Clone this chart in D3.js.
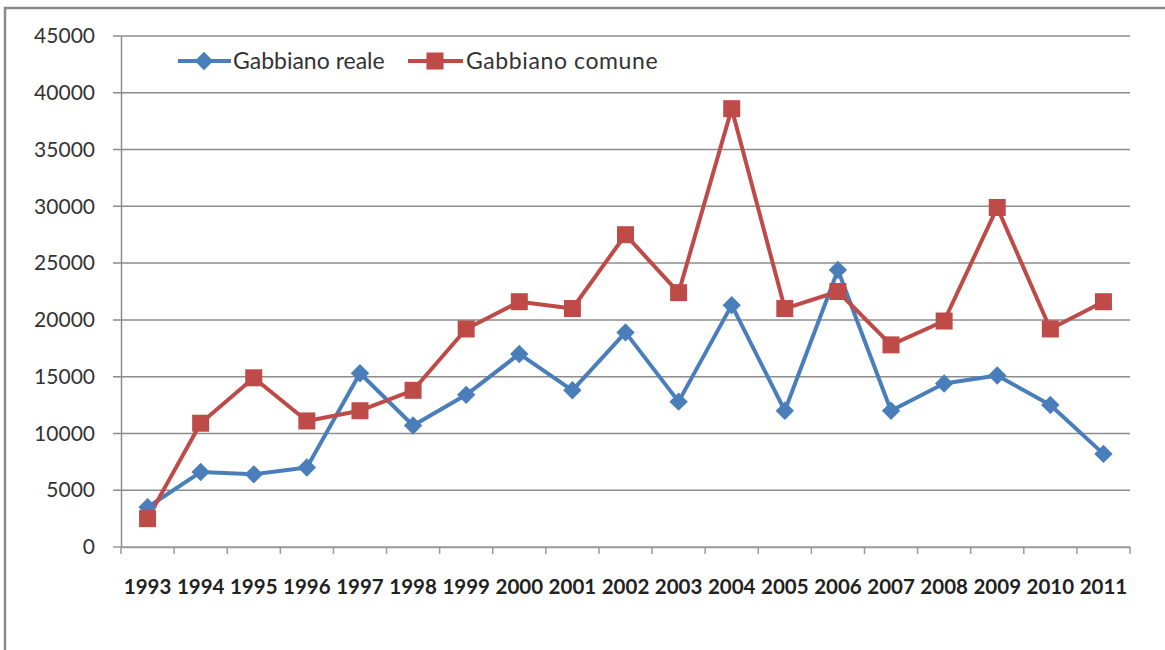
<!DOCTYPE html>
<html><head><meta charset="utf-8">
<script src="https://cdn.jsdelivr.net/npm/d3@7"></script>
<style>body{margin:0;background:#fff;}svg{display:block;}</style>
</head><body>
<svg id="c" width="1165" height="650"></svg>
<script>
const years = ["1993","1994","1995","1996","1997","1998","1999","2000","2001","2002","2003","2004","2005","2006","2007","2008","2009","2010","2011"];
const reale = [3500,6600,6400,7000,15300,10700,13400,17000,13800,18900,12800,21300,12000,24400,12000,14400,15100,12500,8200];
const comune = [2500,10900,14900,11100,12000,13800,19200,21600,21000,27500,22400,38600,21000,22500,17800,19900,29900,19200,21600];
const yTicks = [0,5000,10000,15000,20000,25000,30000,35000,40000,45000];
const seriesNames = ["Gabbiano reale","Gabbiano comune"];

const svg = d3.select("#c");
const font = "Lato, 'Liberation Sans', sans-serif";
// outer frame
svg.append("rect").attr("x",5).attr("y",8).attr("width",1175).attr("height",660)
  .attr("fill","#fff").attr("stroke","#8a8a8a").attr("stroke-width",2.5);

const L=121, R=1130, T=36, B=547;
const x = d3.scaleBand().domain(years).range([L,R]);
const y = d3.scaleLinear().domain([0,45000]).range([B,T]);

// gridlines
svg.append("g").selectAll("line").data(yTicks).join("line")
  .attr("x1",L-8).attr("x2",R).attr("y1",d=>y(d)).attr("y2",d=>y(d))
  .attr("stroke",d=>d===0?"#9a9a9a":"#8c8c8c").attr("stroke-width",1.5);

// y axis
const ya = svg.append("g").attr("transform",`translate(${L},0)`)
  .call(d3.axisLeft(y).tickValues(yTicks).tickSize(0).tickPadding(26).tickFormat(d3.format("d")));
ya.select(".domain").attr("stroke","#8c8c8c").attr("stroke-width",1.5);
ya.selectAll("text").attr("font-family",font).attr("font-size",21).attr("fill","#333");

// x axis
const xa = svg.append("g").attr("transform",`translate(0,${B})`)
  .call(d3.axisBottom(x).tickSize(0).tickPadding(32));
xa.select(".domain").attr("stroke","#9a9a9a").attr("stroke-width",1.5);
xa.selectAll("text").attr("font-family",font).attr("font-size",20.5).attr("font-weight","bold").attr("fill","#222");
// category boundary ticks
svg.append("g").selectAll("line").data(d3.range(years.length+1)).join("line")
  .attr("x1",i=>L+i*x.bandwidth()).attr("x2",i=>L+i*x.bandwidth())
  .attr("y1",B).attr("y2",B+7).attr("stroke","#9a9a9a").attr("stroke-width",1.5);

const cx = d=>x(d)+x.bandwidth()/2;
const line = d3.line().x((d,i)=>cx(years[i])).y(d=>y(d));
const colB="#4a7ebb", colR="#be4b48";

svg.append("path").datum(reale).attr("d",line).attr("fill","none").attr("stroke",colB).attr("stroke-width",4).attr("stroke-linejoin","round");
svg.append("path").datum(comune).attr("d",line).attr("fill","none").attr("stroke",colR).attr("stroke-width",4).attr("stroke-linejoin","round");

function drawDiamond(g,cxv,cyv){
  g.append("rect").attr("x",-6.5).attr("y",-6.5).attr("width",13).attr("height",13)
   .attr("transform",`translate(${cxv},${cyv}) rotate(45)`).attr("fill",colB);
}
function drawSquare(g,cxv,cyv){
  g.append("rect").attr("x",cxv-8.5).attr("y",cyv-8.5).attr("width",17).attr("height",17).attr("fill",colR);
}
const gm = svg.append("g");
reale.forEach((v,i)=>drawDiamond(gm,cx(years[i]),y(v)));
comune.forEach((v,i)=>drawSquare(gm,cx(years[i]),y(v)));

// legend
const lg = svg.append("g");
lg.append("line").attr("x1",178).attr("x2",231).attr("y1",61).attr("y2",61).attr("stroke",colB).attr("stroke-width",4);
drawDiamond(lg,204,61);
lg.append("text").attr("x",233).attr("y",69).text(seriesNames[0]).attr("font-family",font).attr("font-size",23).attr("fill","#333");
lg.append("line").attr("x1",408).attr("x2",463).attr("y1",61).attr("y2",61).attr("stroke",colR).attr("stroke-width",4);
drawSquare(lg,435,61);
lg.append("text").attr("x",466).attr("y",69).text(seriesNames[1]).attr("font-family",font).attr("font-size",23).attr("letter-spacing",0.6).attr("fill","#333");
</script>
</body></html>
